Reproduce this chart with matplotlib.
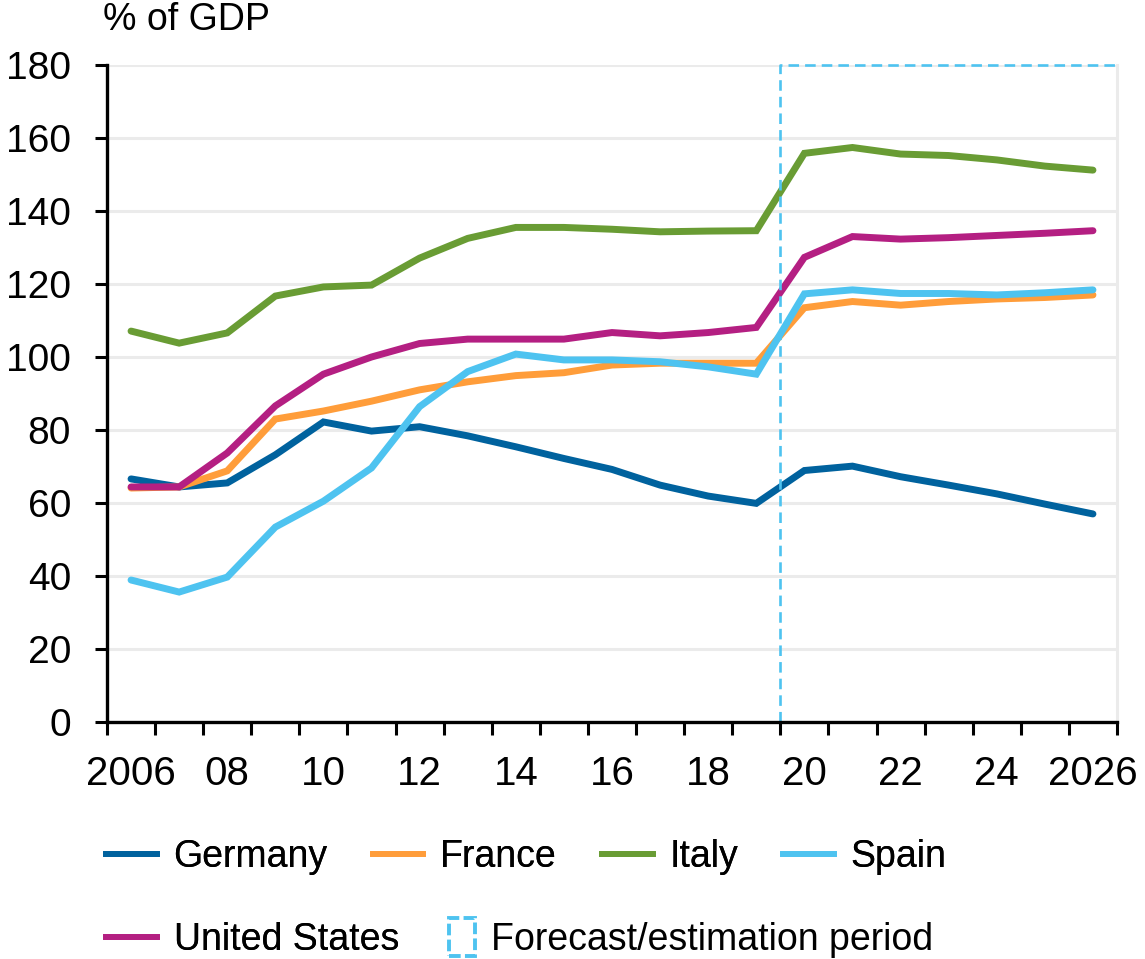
import matplotlib
matplotlib.use("Agg")
import matplotlib.pyplot as plt
from matplotlib.lines import Line2D
from matplotlib.patches import Rectangle
from matplotlib.legend_handler import HandlerPatch

plt.rcParams['font.family'] = ['Liberation Sans', 'DejaVu Sans']

# general government gross debt, % of GDP
years = list(range(2006, 2027))
germany = [66.6, 64.4, 65.5, 73.2, 82.2, 79.7, 80.9, 78.4, 75.4, 72.2, 69.2,
           64.9, 61.9, 59.9, 68.9, 70.1, 67.2, 64.9, 62.5, 59.7, 57.0]
france = [64.1, 64.4, 68.8, 83.0, 85.2, 87.9, 91.0, 93.2, 94.9, 95.7, 97.8,
          98.3, 98.3, 98.3, 113.5, 115.2, 114.2, 115.2, 115.9, 116.3, 117.0]
italy = [107.1, 103.8, 106.6, 116.7, 119.2, 119.7, 127.1, 132.5, 135.5, 135.5, 135.0,
         134.3, 134.5, 134.6, 155.8, 157.4, 155.6, 155.2, 154.0, 152.3, 151.2]
spain = [38.9, 35.6, 39.7, 53.4, 60.5, 69.6, 86.4, 96.0, 100.8, 99.2, 99.2,
         98.7, 97.3, 95.3, 117.3, 118.4, 117.4, 117.4, 117.0, 117.6, 118.4]
usa = [64.4, 64.4, 73.7, 86.6, 95.3, 100.0, 103.7, 104.9, 104.9, 104.9, 106.7,
       105.8, 106.7, 108.1, 127.3, 133.0, 132.3, 132.7, 133.3, 133.9, 134.6]

series = [('Germany', germany, '#00629E'),
          ('France', france, '#FF9D3A'),
          ('Italy', italy, '#699C34'),
          ('Spain', spain, '#4EC3F0'),
          ('United States', usa, '#B41F82')]

tick_labels = ['2006', '08', '10', '12', '14', '16', '18', '20', '22', '24', '2026']
forecast_start = 2019.5
fc_color = '#4EC3F0'

fig = plt.figure(figsize=(11.45, 9.59), dpi=100)
ax = fig.add_axes([107/1145, 1-722/959, 1010/1145, 657/959])

for name, vals, col in series:
    ax.plot(years, vals, color=col, lw=5.0, solid_capstyle='round',
            solid_joinstyle='miter', zorder=3)

x0, x1 = years[0] - 0.5, years[-1] + 0.5
ax.set_xlim(x0, x1)
ax.set_ylim(0, 180)

# forecast period: dashed left edge and top
ax.plot([forecast_start, forecast_start, x1], [0, 180, 180], color=fc_color,
        lw=1.9, ls=(0, (4, 2.3)), clip_on=False, zorder=4)

# gridlines
ax.set_yticks(range(0, 181, 20))
ax.grid(axis='y', color='#EBEBEB', lw=2.2, zorder=0)
ax.set_axisbelow(True)

# year boundaries as tick marks, labels centred on years
ax.set_xticks([y - 0.5 for y in years] + [x1])
ax.set_xticklabels([])
ax.set_xticks(years[::2], minor=True)
ax.set_xticklabels(tick_labels, minor=True)
ax.tick_params(axis='x', which='major', length=9, width=2.2, direction='out', color='black')
ax.tick_params(axis='x', which='minor', length=0, pad=24, labelsize=29)
ax.tick_params(axis='y', length=9, width=2.2, direction='out', pad=17, labelsize=28)

for s in ['left', 'bottom']:
    ax.spines[s].set_linewidth(2.4)
    ax.spines[s].set_zorder(5)
ax.spines['top'].set_visible(False)
ax.spines['right'].set_color('#EBEBEB')
ax.spines['right'].set_linewidth(2.2)

fig.text(103/1145, 1-20/959, '% of GDP', fontsize=27, va='center', ha='left')


class SquareHandler(HandlerPatch):
    def create_artists(self, legend, orig_handle, xdescent, ydescent,
                       width, height, fontsize, trans):
        h = height * 1.45
        w = width
        p = Rectangle((-xdescent, height/2 - h/2 - ydescent), w, h,
                      fill=False, edgecolor=fc_color, lw=2.8, ls=(0, (3, 1.1)))
        p.set_transform(trans)
        return [p]


handles = [Line2D([], [], color=c, lw=4.2) for _, _, c in series]
names = [n for n, _, _ in series]
fc_handle = Rectangle((0, 0), 1, 1, fill=False, edgecolor=fc_color)

leg_kw = dict(frameon=False, fontsize=27, handletextpad=0.45,
              columnspacing=1.2, borderpad=0, borderaxespad=0, loc='center left')
leg1 = fig.legend(handles[:4], names[:4], ncol=4, handlelength=1.35,
                  bbox_to_anchor=(106/1145, 1-857/959), **leg_kw)
fig.add_artist(leg1)
leg2 = fig.legend([handles[4]], [names[4]], handlelength=1.35,
                  bbox_to_anchor=(106/1145, 1-940/959), **leg_kw)
fig.add_artist(leg2)
fig.legend([fc_handle], ['Forecast/estimation period'], handlelength=0.68,
           bbox_to_anchor=(449/1145, 1-940/959),
           handler_map={Rectangle: SquareHandler()}, **leg_kw)

fig.savefig('out.png', dpi=100)
